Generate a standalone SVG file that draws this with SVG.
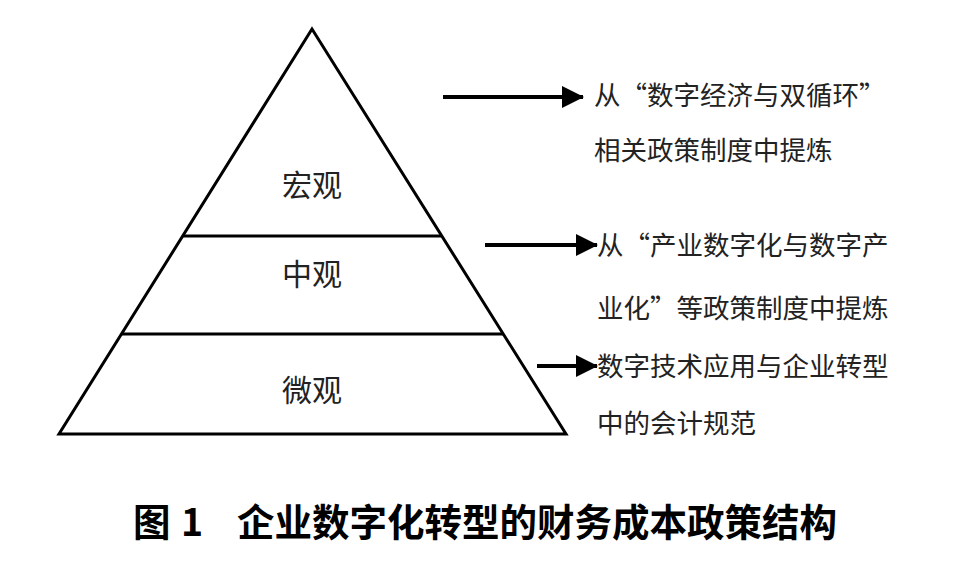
<svg xmlns="http://www.w3.org/2000/svg" width="975" height="565" viewBox="0 0 975 565">
<style>
.edge{fill:none;stroke:#000;stroke-width:3;stroke-linejoin:miter}
.div{stroke:#000;stroke-width:3}
.lvl{font-family:"Noto Sans CJK SC","Noto Sans",sans-serif;font-size:30px;fill:#222;text-anchor:middle}
.note{font-family:"Noto Sans CJK SC","Noto Sans",sans-serif;font-size:26.5px;fill:#222}
.arr{stroke:#000;stroke-width:4;fill:none}
.cap{font-family:"Noto Sans CJK SC","Noto Sans",sans-serif;font-size:37.5px;font-weight:bold;fill:#000}
</style>
<defs>
<marker id="ah" markerUnits="userSpaceOnUse" markerWidth="22" markerHeight="22" viewBox="0 0 22 22" refX="21" refY="11" orient="auto">
<path d="M0,0 L22,11 L0,22 Z" fill="#000"/>
</marker>
</defs>
<rect width="975" height="565" fill="#fff"/>
<g id="pyramid">
<path class="edge" d="M312,29 L59,434 L566,434 Z"/>
</g>
<g id="macro">
<line class="div" x1="183" y1="236" x2="441" y2="236"/>
<text class="lvl" x="312" y="196">宏观</text>
</g>
<g id="meso">
<line class="div" x1="121" y1="334" x2="503" y2="334"/>
<text class="lvl" x="312" y="285">中观</text>
</g>
<g id="micro">
<text class="lvl" x="312" y="401">微观</text>
</g>
<g id="connectors">
<line class="arr" x1="443" y1="97" x2="583" y2="97" marker-end="url(#ah)"/>
<line class="arr" x1="485" y1="245" x2="597" y2="245" marker-end="url(#ah)"/>
<line class="arr" x1="537" y1="366" x2="597" y2="366" marker-end="url(#ah)"/>
</g>
<g id="note-macro">
<text class="note" x="594" y="105">从“数字经济与双循环”</text>
<text class="note" x="594" y="160">相关政策制度中提炼</text>
</g>
<g id="note-meso">
<text class="note" x="597" y="255">从“产业数字化与数字产</text>
<text class="note" x="597" y="318">业化”等政策制度中提炼</text>
</g>
<g id="note-micro">
<text class="note" x="597" y="376">数字技术应用与企业转型</text>
<text class="note" x="597" y="433">中的会计规范</text>
</g>
<g id="caption">
<text class="cap" y="536"><tspan x="133">图</tspan><tspan x="181">1</tspan><tspan x="237">企业数字化转型的财务成本政策结构</tspan></text>
</g>
</svg>
